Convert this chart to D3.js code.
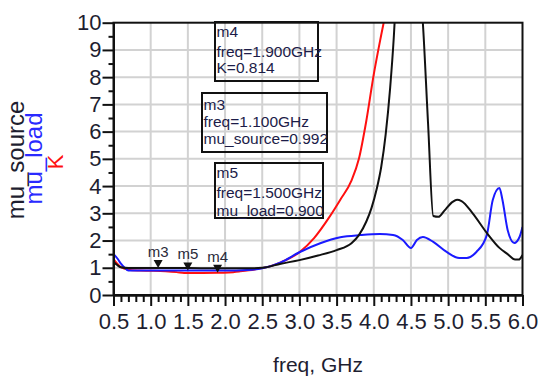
<!DOCTYPE html>
<html>
<head>
<meta charset="utf-8">
<script src="https://cdn.jsdelivr.net/npm/d3@7"></script>
<style>
  body { margin: 0; background: #fff; }
  svg { display: block; font-family: Arial, "Liberation Sans", sans-serif; }
</style>
</head>
<body>
<div id="chart"></div>
<script>
// K (red)
const freqK = [0.50, 0.55, 0.60, 0.70, 0.85, 1.00, 1.20, 1.35, 1.45, 1.70, 1.90, 2.05, 2.20, 2.40, 2.60, 2.75, 3.00, 3.20, 3.40, 3.55, 3.70, 3.80, 3.90, 4.00, 4.10, 4.20]
const valK  = [1.32, 1.15, 1.02, 0.93, 0.90, 0.89, 0.87, 0.84, 0.81, 0.81, 0.814, 0.83, 0.87, 0.94, 1.05, 1.20, 1.57, 2.10, 2.85, 3.50, 4.20, 5.00, 6.40, 8.10, 9.55, 10.9]

// mu_source (black)
const freqSource = [0.50, 0.55, 0.60, 0.70, 1.00, 1.10, 1.50, 2.00, 2.30, 2.50, 2.75, 3.00, 3.25, 3.50, 3.70, 3.80, 3.90, 3.97, 4.04, 4.10, 4.16, 4.22, 4.27, 4.30, 4.45, 4.62, 4.66, 4.73, 4.80, 4.87, 4.95, 5.06, 5.12, 5.18, 5.33, 5.52, 5.69, 5.80, 5.90, 5.95, 6.00]
const valSource  = [1.22, 1.10, 1.02, 0.99, 0.99, 0.992, 0.99, 0.98, 0.98, 1.00, 1.15, 1.28, 1.45, 1.65, 1.90, 2.20, 2.70, 3.20, 3.90, 4.70, 5.90, 7.60, 9.50, 11.0, 16.0, 11.5, 10.0, 6.30, 2.90, 2.87, 3.10, 3.42, 3.50, 3.45, 3.00, 2.28, 1.73, 1.50, 1.30, 1.30, 1.47]

// mu_load (blue)
const freqLoad = [0.50, 0.55, 0.60, 0.65, 0.70, 0.80, 1.00, 1.50, 2.00, 2.30, 2.50, 2.75, 3.00, 3.28, 3.55, 3.82, 4.08, 4.26, 4.39, 4.50, 4.58, 4.66, 4.80, 4.98, 5.15, 5.25, 5.38, 5.52, 5.60, 5.69, 5.73, 5.80, 5.89, 5.96, 6.00]
const valLoad  = [1.50, 1.35, 1.15, 1.00, 0.90, 0.90, 0.90, 0.900, 0.90, 0.92, 0.98, 1.20, 1.57, 1.90, 2.12, 2.20, 2.24, 2.20, 2.02, 1.73, 2.02, 2.13, 1.95, 1.58, 1.36, 1.36, 1.58, 2.20, 3.49, 3.93, 3.50, 2.39, 1.91, 2.13, 2.50]

const xTicks = [0.5, 1.0, 1.5, 2.0, 2.5, 3.0, 3.5, 4.0, 4.5, 5.0, 5.5, 6.0]
const yTicks = [0, 1, 2, 3, 4, 5, 6, 7, 8, 9, 10]

const markerNames = ['m3', 'm5', 'm4']
const markerFreqs = [1.1, 1.5, 1.9]
const markerTraces = ['mu_source', 'mu_load', 'K']
const markerValues = [0.992, 0.900, 0.814]

const width = 538
const height = 376
const plotL = 113.5, plotR = 522.5, plotT = 22.7, plotB = 295

const svg = d3.select('#chart').append('svg').attr('width', width).attr('height', height)

const xScale = d3.scaleLinear().domain([0.5, 6.0]).range([plotL, plotR])
const yScale = d3.scaleLinear().domain([0, 10]).range([plotB, plotT])

// grid
const grid = svg.append('g').attr('stroke', '#d2d2d2').attr('stroke-width', 2)
grid.selectAll('.vg').data(xTicks.slice(1, -1)).enter().append('line')
  .attr('x1', d => xScale(d)).attr('x2', d => xScale(d)).attr('y1', plotT).attr('y2', plotB)
grid.selectAll('.hg').data(yTicks.slice(1, -1)).enter().append('line')
  .attr('x1', plotL).attr('x2', plotR).attr('y1', d => yScale(d)).attr('y2', d => yScale(d))

svg.append('clipPath').attr('id', 'plotclip').append('rect')
  .attr('x', plotL).attr('y', plotT).attr('width', plotR - plotL).attr('height', plotB - plotT)

const line = d3.line().x(d => xScale(d[0])).y(d => yScale(d[1])).curve(d3.curveMonotoneX)
const curves = svg.append('g').attr('clip-path', 'url(#plotclip)').attr('fill', 'none').attr('stroke-width', 2)
curves.append('path').attr('d', line(d3.zip(freqK, valK))).attr('stroke', '#ff1010')
curves.append('path').attr('d', line(d3.zip(freqLoad, valLoad))).attr('stroke', '#1a1aff')
curves.append('path').attr('d', line(d3.zip(freqSource, valSource))).attr('stroke', '#111')

// frame
svg.append('rect').attr('x', plotL).attr('y', plotT).attr('width', plotR - plotL).attr('height', plotB - plotT)
  .attr('fill', 'none').attr('stroke', '#111').attr('stroke-width', 2)

// axes
const xAxis = svg.append('g').attr('transform', `translate(0,${plotB})`)
  .call(d3.axisBottom(xScale).tickValues(xTicks).tickFormat(d3.format('.1f')).tickSize(11).tickSizeOuter(0).tickPadding(7))
const xMinor = svg.append('g').attr('transform', `translate(0,${plotB})`)
  .call(d3.axisBottom(xScale).tickValues(d3.range(6, 60).filter(i => i % 5 !== 0).map(i => i / 10)).tickFormat('').tickSize(7).tickSizeOuter(0))
const yAxis = svg.append('g').attr('transform', `translate(${plotL},0)`)
  .call(d3.axisLeft(yScale).tickValues(yTicks).tickSize(11).tickSizeOuter(0).tickPadding(1))
const yMinor = svg.append('g').attr('transform', `translate(${plotL},0)`)
  .call(d3.axisLeft(yScale).tickValues(yTicks.slice(0, -1).map(d => d + 0.5)).tickFormat('').tickSize(5).tickSizeOuter(0))

svg.selectAll('.domain').attr('stroke', '#111').attr('stroke-width', 2)
svg.selectAll('.tick line').attr('stroke', '#111').attr('stroke-width', 2)
xAxis.selectAll('text').attr('font-size', 22).attr('fill', '#1e1e30').attr('font-family', 'Arial, "Liberation Sans", sans-serif')
yAxis.selectAll('text').attr('font-size', 22).attr('fill', '#1e1e30').attr('font-family', 'Arial, "Liberation Sans", sans-serif')

// axis titles
svg.append('text').text('freq, GHz').attr('x', (plotL + plotR) / 2).attr('y', 372)
  .attr('text-anchor', 'middle').attr('font-size', 21).attr('fill', '#1e1e30')
const yTitles = [['mu_source', 24, 160, '#1e1e30', 24], ['mu_load', 42, 158.5, '#2a2aff', 24], ['K', 63, 162, '#ff1010', 22]]
yTitles.forEach(t => {
  svg.append('text').text(t[0]).attr('transform', `translate(${t[1]},${t[2]}) rotate(-90)`)
    .attr('text-anchor', 'middle').attr('font-size', t[4]).attr('fill', t[3])
})

// markers
const markers = svg.append('g')
markerNames.forEach((name, i) => {
  const mx = xScale(markerFreqs[i])
  const my = yScale(markerValues[i])
  markers.append('path').attr('d', `M${mx - 4.5},${my - 8}L${mx + 4.5},${my - 8}L${mx},${my}Z`).attr('fill', '#111')
  markers.append('text').text(name).attr('x', mx).attr('y', my - 11)
    .attr('text-anchor', 'middle').attr('font-size', 15).attr('fill', '#2a2a3a')
})

// marker readout boxes
const boxes = [
  { x: 215, y: 22, w: 103, h: 59, lines: [15, 35, 51], idx: 2 },
  { x: 202, y: 93, w: 125, h: 59, lines: [17, 34, 51], idx: 0 },
  { x: 215, y: 163, w: 108, h: 55, lines: [15, 35, 53], idx: 1 }
]
boxes.forEach(b => {
  const g = svg.append('g')
  g.append('rect').attr('x', b.x).attr('y', b.y).attr('width', b.w).attr('height', b.h)
    .attr('fill', 'none').attr('stroke', '#111').attr('stroke-width', 2)
  const texts = [markerNames[b.idx], `freq=${markerFreqs[b.idx].toFixed(3)}GHz`, `${markerTraces[b.idx]}=${markerValues[b.idx].toFixed(3)}`]
  texts.forEach((t, j) => {
    g.append('text').text(t).attr('x', b.x + 1.5).attr('y', b.y + b.lines[j])
      .attr('font-size', 15.5).attr('fill', '#1c1c48')
  })
})
</script>
</body>
</html>
